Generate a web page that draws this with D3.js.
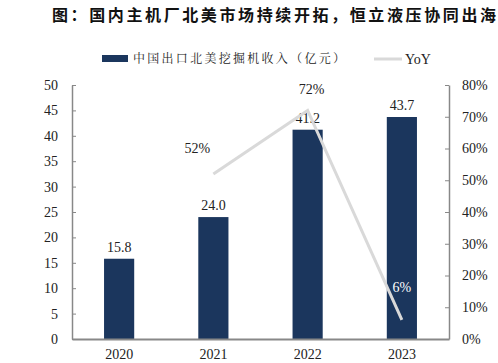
<!DOCTYPE html>
<html>
<head>
<meta charset="utf-8">
<script src="https://cdn.jsdelivr.net/npm/d3@7"></script>
<style>
  body { margin: 0; background: #fff; }
  text { font-family: "Liberation Serif", "Noto Sans CJK SC", serif; }
</style>
</head>
<body>
<svg id="chart"></svg>
<script>
var years = ["2020", "2021", "2022", "2023"];
var revenue = [15.8, 24.0, 41.2, 43.7];
var yoy = [null, 0.52, 0.72, 0.06];
var leftTicks = [0, 5, 10, 15, 20, 25, 30, 35, 40, 45, 50];
var rightTicks = [0, 0.1, 0.2, 0.3, 0.4, 0.5, 0.6, 0.7, 0.8];

var width = 498, height = 363;
var margins = { top: 85, bottom: 24, left: 72, right: 49 };

var svg = d3.select("#chart")
  .attr("width", width)
  .attr("height", height);

var xScale = d3.scaleBand()
  .domain(years)
  .range([margins.left, width - margins.right])
  .paddingInner(0.68)
  .paddingOuter(0.34);

var yScale = d3.scaleLinear()
  .domain([0, 50])
  .range([height - margins.bottom, margins.top]);

var yScale2 = d3.scaleLinear()
  .domain([0, 0.8])
  .range([height - margins.bottom, margins.top]);

// title
svg.append("text")
  .attr("x", 52)
  .attr("y", 21)
  .attr("textLength", 444)
  .attr("lengthAdjust", "spacing")
  .style("font-family", "'Noto Sans CJK SC', sans-serif")
  .style("font-weight", "bold")
  .style("font-size", "16px")
  .attr("fill", "#111")
  .text("图：国内主机厂北美市场持续开拓，恒立液压协同出海");

// legend
svg.append("rect")
  .attr("x", 102).attr("y", 55)
  .attr("width", 26).attr("height", 7)
  .attr("fill", "#1b365d");
svg.append("text")
  .attr("x", 133).attr("y", 63)
  .attr("textLength", 212)
  .attr("lengthAdjust", "spacing")
  .style("font-family", "'Noto Serif CJK SC', 'Noto Sans CJK SC', serif")
  .style("font-size", "12px")
  .attr("fill", "#222")
  .text("中国出口北美挖掘机收入（亿元）");
svg.append("line")
  .attr("x1", 374).attr("x2", 402)
  .attr("y1", 59).attr("y2", 59)
  .attr("stroke", "#d9d9d9").attr("stroke-width", 3);
svg.append("text")
  .attr("x", 405).attr("y", 64)
  .style("font-size", "14px")
  .attr("fill", "#222")
  .text("YoY");

// axes
var yAxis = d3.axisLeft(yScale).tickValues(leftTicks).tickSizeInner(-4).tickSizeOuter(0).tickPadding(14);
var yAxis2 = d3.axisRight(yScale2).tickValues(rightTicks).tickSizeInner(-4).tickSizeOuter(0)
  .tickPadding(13).tickFormat(d3.format(".0%"));
var xAxis = d3.axisBottom(xScale).tickSize(0).tickPadding(10);

var gy = svg.append("g")
  .attr("transform", "translate(" + margins.left + ",0)")
  .call(yAxis);
var gy2 = svg.append("g")
  .attr("transform", "translate(" + (width - margins.right) + ",0)")
  .call(yAxis2);

[gy, gy2].forEach(function(g) {
  g.select(".domain").attr("stroke", "#888").attr("stroke-width", 1.5);
  g.selectAll(".tick line").attr("stroke", "#888");
  g.selectAll(".tick text")
    .style("font-family", "'Liberation Serif', serif")
    .style("font-size", "14px")
    .attr("fill", "#222");
});

// bars
svg.selectAll(".bar")
  .data(revenue)
  .enter()
  .append("rect")
  .attr("class", "bar")
  .attr("x", function(d, i) { return xScale(years[i]); })
  .attr("y", function(d) { return yScale(d); })
  .attr("width", xScale.bandwidth())
  .attr("height", function(d) { return yScale(0) - yScale(d); })
  .attr("fill", "#1b365d");

var gx = svg.append("g")
  .attr("transform", "translate(0," + (height - margins.bottom) + ")")
  .call(xAxis);
gx.select(".domain").attr("stroke", "#888").attr("stroke-width", 2);
gx.selectAll(".tick text")
  .style("font-family", "'Liberation Serif', serif")
  .style("font-size", "14px")
  .attr("fill", "#222");

// bar labels
svg.selectAll(".barlabel")
  .data(revenue)
  .enter()
  .append("text")
  .attr("class", "barlabel")
  .attr("x", function(d, i) { return xScale(years[i]) + xScale.bandwidth() / 2; })
  .attr("y", function(d) { return yScale(d) - 7; })
  .attr("text-anchor", "middle")
  .style("font-size", "14px")
  .attr("fill", "#222")
  .text(function(d) { return d.toFixed(1); });

// yoy line
var lineData = yoy.map(function(d, i) { return { year: years[i], v: d }; })
  .filter(function(d) { return d.v !== null; });

var drawLine = d3.line()
  .x(function(d) { return xScale(d.year) + xScale.bandwidth() / 2; })
  .y(function(d) { return yScale2(d.v); });

svg.append("path")
  .datum(lineData)
  .attr("d", drawLine)
  .attr("fill", "none")
  .attr("stroke", "#d9d9d9")
  .attr("stroke-width", 3);

var yoyOffsets = [[-16, -21], [4, -16], [0, -28]];
svg.selectAll(".yoylabel")
  .data(lineData)
  .enter()
  .append("text")
  .attr("class", "yoylabel")
  .attr("x", function(d, i) { return xScale(d.year) + xScale.bandwidth() / 2 + yoyOffsets[i][0]; })
  .attr("y", function(d, i) { return yScale2(d.v) + yoyOffsets[i][1]; })
  .attr("text-anchor", "middle")
  .style("font-size", "14px")
  .attr("fill", function(d, i) { return i === 2 ? "#fff" : "#222"; })
  .text(function(d) { return Math.round(d.v * 100) + "%"; });
</script>
</body>
</html>
